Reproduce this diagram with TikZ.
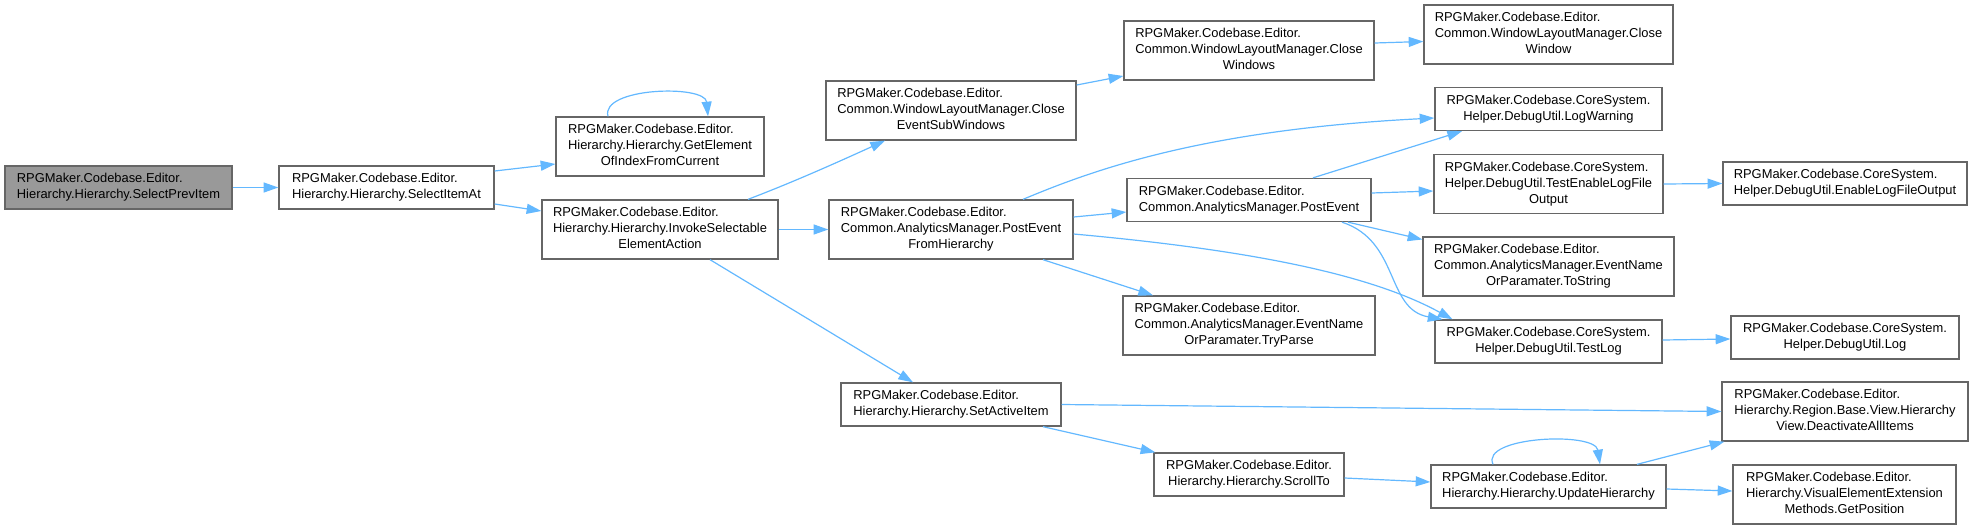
\documentclass[tikz,border=0pt]{standalone}
\usepackage{fontspec}
\setmainfont{Liberation Sans}
\usetikzlibrary{arrows.meta,calc}
\definecolor{bordc}{HTML}{666666}
\definecolor{rootc}{HTML}{999999}
\definecolor{edgec}{HTML}{63B8FF}
\newcommand\dxfont{\fontsize{9.68pt}{12pt}\selectfont}
\newcommand\dxtwo[2]{\begin{tabular}{@{}l@{}}#1\\\multicolumn{1}{@{}c@{}}{#2}\end{tabular}}
\newcommand\dxthree[3]{\begin{tabular}{@{}l@{}}#1\\#2\\\multicolumn{1}{@{}c@{}}{#3}\end{tabular}}
\newcommand\mknode[7][box]{\node[#1, minimum width={(#5-#3)*0.75}, minimum height={(#6-#4)*0.75}] (#2) at ({(#3+#5)/2},{(#4+#6)/2}) {#7};}
\tikzset{
  box/.style={draw=bordc, line width=1pt, fill=white, inner sep=0pt, font=\dxfont},
  rootbox/.style={box, fill=rootc},
  conn/.style={draw=edgec, line width=0.9pt, -{Triangle[length=11pt,width=7.5pt]}}
}
\begin{document}
\begin{tikzpicture}[x=0.75pt,y=-0.75pt]
\useasboundingbox (0,0) rectangle (1973,529);
\mknode[rootbox]{spi}{5}{166}{232}{209}{\dxtwo{RPGMaker.Codebase.Editor.}{Hierarchy.Hierarchy.SelectPrevItem}}
\mknode{sia}{279}{166}{494}{209}{\dxtwo{RPGMaker.Codebase.Editor.}{Hierarchy.Hierarchy.SelectItemAt}}
\mknode{gei}{556}{117}{764}{176}{\dxthree{RPGMaker.Codebase.Editor.}{Hierarchy.Hierarchy.GetElement}{OfIndexFromCurrent}}
\mknode{ise}{542}{200}{778}{259}{\dxthree{RPGMaker.Codebase.Editor.}{Hierarchy.Hierarchy.InvokeSelectable}{ElementAction}}
\mknode{cesw}{826}{81}{1076}{140}{\dxthree{RPGMaker.Codebase.Editor.}{Common.WindowLayoutManager.Close}{EventSubWindows}}
\mknode{pefh}{829}{200}{1073}{259}{\dxthree{RPGMaker.Codebase.Editor.}{Common.AnalyticsManager.PostEvent}{FromHierarchy}}
\mknode{sai}{841}{383}{1061}{426}{\dxtwo{RPGMaker.Codebase.Editor.}{Hierarchy.Hierarchy.SetActiveItem}}
\mknode{cws}{1124}{21}{1374}{80}{\dxthree{RPGMaker.Codebase.Editor.}{Common.WindowLayoutManager.Close}{Windows}}
\mknode{pe}{1127}{178.5}{1371}{221.5}{\dxtwo{RPGMaker.Codebase.Editor.}{Common.AnalyticsManager.PostEvent}}
\mknode{tp}{1123}{296}{1375}{355}{\dxthree{RPGMaker.Codebase.Editor.}{Common.AnalyticsManager.EventName}{OrParamater.TryParse}}
\mknode{st}{1154}{453}{1344}{496}{\dxtwo{RPGMaker.Codebase.Editor.}{Hierarchy.Hierarchy.ScrollTo}}
\mknode{cw}{1424}{5}{1673}{64}{\dxthree{RPGMaker.Codebase.Editor.}{Common.WindowLayoutManager.Close}{Window}}
\mknode{lw}{1435}{87.5}{1662}{130.5}{\dxtwo{RPGMaker.Codebase.CoreSystem.}{Helper.DebugUtil.LogWarning}}
\mknode{tel}{1434}{154.5}{1663}{213.5}{\dxthree{RPGMaker.Codebase.CoreSystem.}{Helper.DebugUtil.TestEnableLogFile}{Output}}
\mknode{ts}{1423}{237}{1674}{296}{\dxthree{RPGMaker.Codebase.Editor.}{Common.AnalyticsManager.EventName}{OrParamater.ToString}}
\mknode{tl}{1435}{320}{1662}{363}{\dxtwo{RPGMaker.Codebase.CoreSystem.}{Helper.DebugUtil.TestLog}}
\mknode{uh}{1431}{465}{1666}{508}{\dxtwo{RPGMaker.Codebase.Editor.}{Hierarchy.Hierarchy.UpdateHierarchy}}
\mknode{elf}{1723}{162}{1967}{205}{\dxtwo{RPGMaker.Codebase.CoreSystem.}{Helper.DebugUtil.EnableLogFileOutput}}
\mknode{log}{1731}{316}{1959}{359}{\dxtwo{RPGMaker.Codebase.CoreSystem.}{Helper.DebugUtil.Log}}
\mknode{dai}{1722}{382}{1968}{441}{\dxthree{RPGMaker.Codebase.Editor.}{Hierarchy.Region.Base.View.Hierarchy}{View.DeactivateAllItems}}
\mknode{gp}{1733}{465}{1956}{524}{\dxthree{RPGMaker.Codebase.Editor.}{Hierarchy.VisualElementExtension}{Methods.GetPosition}}
% connectors
\draw[conn] (spi.east) -- (sia.west);
\draw[conn] ($(sia.east)+(0,-16.5)$) -- ($(gei.west)+(0,17.5)$);
\draw[conn] ($(sia.east)+(0,16.5)$) -- ($(ise.west)+(0,-18.5)$);
\draw[conn] ($(gei.north)+(-52,0)$) .. controls +(-8,-29) and +(-3,-32) .. ($(gei.north)+(48,0)$);
\draw[conn] ($(ise.north)+(88,0)$) .. controls +(42,-16) and +(-55,25) .. ($(cesw.south)+(-66,0)$);
\draw[conn] (ise.east) -- (pefh.west);
\draw[conn] ($(ise.south)+(50,0)$) -- ($(sai.north)+(-38,0)$);
\draw[conn] ($(cesw.east)+(0,-25.5)$) -- ($(cws.west)+(0,25.5)$);
\draw[conn] ($(cws.east)+(0,-7.5)$) -- ($(cw.west)+(0,7)$);
\draw[conn] ($(pefh.north)+(72,0)$) .. controls +(67,-28) and +(-235,12) .. ($(lw.west)+(0,9)$);
\draw[conn] ($(pefh.east)+(0,-12.5)$) -- ($(pe.west)+(0,12)$);
\draw[conn] ($(pefh.east)+(0,4.5)$) .. controls +(177,16) and +(-82,-45) .. ($(tl.north)+(-96,0)$);
\draw[conn] ($(pefh.south)+(92,0)$) -- ($(tp.north)+(-96,0)$);
\draw[conn] ($(pe.north)+(64,0)$) -- ($(lw.south)+(-86.5,0)$);
\draw[conn] ($(pe.east)+(0,-7)$) -- ($(tel.west)+(0,7)$);
\draw[conn] ($(pe.south)+(99,0)$) -- ($(ts.west)+(0,-27)$);
\draw[conn] ($(pe.south)+(93,0)$) .. controls +(58,19) and +(-57,-10) .. ($(tl.north)+(-106,0)$);
\draw[conn] (tel.east) -- (elf.west);
\draw[conn] ($(tl.east)+(0,-1.5)$) -- ($(log.west)+(0,1.5)$);
\draw[conn] (sai.east) -- (dai.west);
\draw[conn] ($(sai.south)+(92,0)$) -- ($(st.north west)+(2,0)$);
\draw[conn] ($(st.east)+(0,3.5)$) -- ($(uh.west)+(0,-4.5)$);
\draw[conn] ($(uh.north)+(-55.5,0)$) .. controls +(-13,-28) and +(-5,-33) .. ($(uh.north)+(51.5,0)$);
\draw[conn] ($(uh.north)+(88.5,0)$) -- ($(dai.south west)+(3,0)$);
\draw[conn] ($(uh.east)+(0,2.5)$) -- ($(gp.west)+(0,-3.5)$);
\end{tikzpicture}
\end{document}
